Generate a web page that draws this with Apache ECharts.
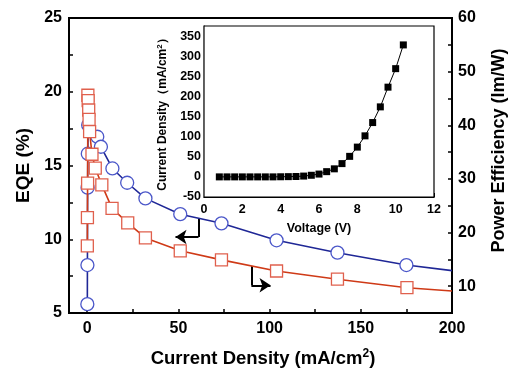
<!DOCTYPE html>
<html>
<head>
<meta charset="utf-8">
<script src="https://cdn.jsdelivr.net/npm/echarts@6/dist/echarts.min.js"></script>
<style>
html,body{margin:0;padding:0;background:#fff;}
#c{width:511px;height:371px;}
</style>
</head>
<body>
<div id="c"></div>
<script>
// ---- main chart data ----
const eqeCurrent = [0.05, 0.1, 0.2, 0.3, 0.5, 5.5, 7.5, 13.8, 21.9, 31.9, 51, 73.6, 103.8, 137.2, 175, 200];
const eqeValues  = [5.6, 8.25, 13.5, 15.8, 17.75, 16.95, 16.27, 14.8, 13.83, 12.77, 11.7, 11.08, 9.93, 9.09, 8.25, 7.87];
const peCurrent  = [0.05, 0.1, 0.2, 0.35, 0.5, 0.8, 1.0, 1.3, 2.6, 4.4, 8, 13.6, 22.2, 31.9, 51, 73.6, 103.8, 137.2, 175.3, 200];
const peValues   = [17.5, 22.8, 29.2, 45.6, 44.6, 42.85, 41.1, 38.8, 34.6, 32.0, 28.9, 24.5, 21.8, 19.0, 16.6, 14.9, 12.83, 11.3, 9.72, 9.1];
// last point of each series only continues the line to the frame edge
const lineOnlyLast = true;

// ---- inset data ----
const voltage = [0.8, 1.2, 1.6, 2.0, 2.4, 2.8, 3.2, 3.6, 4.0, 4.4, 4.8, 5.2, 5.6, 6.0, 6.4, 6.8, 7.2, 7.6, 8.0, 8.4, 8.8, 9.2, 9.6, 10.0, 10.4];
const currentDensity = [0, 0, 0, 0, 0, 0, 0, 0, 0.3, 0.6, 1, 2, 4, 7, 13, 20, 33, 51, 74, 102, 135, 174, 223, 269, 328];

// ---- tick labels ----
const xTicks = [0, 25, 50, 75, 100, 125, 150, 175, 200];
const xLabels = [0, 50, 100, 150, 200];
const eqeTicks = [5, 7.5, 10, 12.5, 15, 17.5, 20, 22.5, 25];
const eqeLabels = [5, 10, 15, 20, 25];
const peTicks = [10, 15, 20, 25, 30, 35, 40, 45, 50, 55, 60];
const peLabels = [10, 20, 30, 40, 50, 60];
const insetYTicks = [-50, -25, 0, 25, 50, 75, 100, 125, 150, 175, 200, 225, 250, 275, 300, 325, 350];
const insetYLabels = [-50, 0, 50, 100, 150, 200, 250, 300, 350];

// ---- annotation arrows (data coordinates) ----
const eqeArrow = { x: 61, yTop: 11.37, yBottom: 10.15, xEnd: 48.4 };
const peArrow = { x: 90, yTop: 13.77, yBottom: 10.17, xEnd: 100.5 };

function pts(xs, ys, last) {
  return xs.map((x, i) => {
    if (last && i === xs.length - 1) return { value: [x, ys[i]], symbol: 'none' };
    return [x, ys[i]];
  });
}

const FONT = 'Liberation Sans, Arial, sans-serif';
const chart = echarts.init(document.getElementById('c'), null, { renderer: 'canvas' });

const axisLineStyle = { color: '#000', width: 2 };
const option = {
  backgroundColor: '#fff',
  animation: false,
  textStyle: { fontFamily: FONT },
  grid: [
    { left: 69, right: 59, top: 18, bottom: 58, show: true, borderColor: '#000', borderWidth: 2,
      backgroundColor: 'transparent', outerBoundsMode: 'none', containLabel: false },
    { left: 204, top: 26, width: 230, height: 171, show: true, borderColor: '#000', borderWidth: 1.2,
      backgroundColor: '#fff', z: 5, outerBoundsMode: 'none', containLabel: false }
  ],
  xAxis: [
    {
      type: 'value', gridIndex: 0, min: -10, max: 200,
      name: 'Current Density (mA/cm{sup|2})', nameLocation: 'middle', nameGap: 35,
      nameTextStyle: { fontSize: 18.5, fontWeight: 'bold', color: '#000', fontFamily: FONT, padding: [0, 0, 0, 5],
        rich: { sup: { fontSize: 12, fontWeight: 'bold', color: '#000', fontFamily: FONT, padding: [0, 0, 10, 0] } } },
      axisLine: { onZero: false, lineStyle: axisLineStyle },
      axisTick: { inside: true, length: 4, lineStyle: { width: 1.5, color: '#000' }, customValues: xTicks },
      axisLabel: { customValues: xLabels, fontSize: 16, fontWeight: 'bold', color: '#000', fontFamily: FONT, margin: 8 },
      splitLine: { show: false }
    },
    {
      type: 'value', gridIndex: 1, min: 0, max: 12, interval: 2,
      name: 'Voltage (V)', nameLocation: 'middle', nameGap: 25,
      nameTextStyle: { fontSize: 12.5, fontWeight: 'bold', color: '#000', fontFamily: FONT },
      axisLine: { onZero: false, lineStyle: { color: '#000', width: 1.2 } },
      axisTick: { inside: true, length: 4, lineStyle: { color: '#000' } },
      minorTick: { show: true, splitNumber: 2, length: 2.5, lineStyle: { color: '#000' } },
      axisLabel: { fontSize: 12.5, fontWeight: 'bold', color: '#000', fontFamily: FONT, margin: 6 },
      splitLine: { show: false }
    }
  ],
  yAxis: [
    {
      type: 'value', gridIndex: 0, min: 5, max: 25,
      name: 'EQE (%)', nameLocation: 'middle', nameGap: 36, nameRotate: 90,
      nameTextStyle: { fontSize: 19, fontWeight: 'bold', color: '#000', fontFamily: FONT },
      axisLine: { onZero: false, lineStyle: axisLineStyle },
      axisTick: { inside: true, length: 4, lineStyle: { width: 1.5, color: '#000' }, customValues: eqeTicks },
      axisLabel: { customValues: eqeLabels, fontSize: 16, fontWeight: 'bold', color: '#000', fontFamily: FONT, margin: 7 },
      splitLine: { show: false }
    },
    {
      type: 'value', gridIndex: 0, min: 5, max: 60, position: 'right',
      name: 'Power Efficiency (lm/W)', nameLocation: 'middle', nameGap: 38, nameRotate: 90,
      nameTextStyle: { fontSize: 18, fontWeight: 'bold', color: '#000', fontFamily: FONT, padding: [0, 0, 0, 30] },
      axisLine: { onZero: false, lineStyle: axisLineStyle },
      axisTick: { inside: true, length: 4, lineStyle: { width: 1.5, color: '#000' }, customValues: peTicks },
      axisLabel: { customValues: peLabels, fontSize: 16, fontWeight: 'bold', color: '#000', fontFamily: FONT, margin: 6 },
      splitLine: { show: false }
    },
    {
      type: 'value', gridIndex: 1, min: -50, max: 375,
      name: 'Current Density（mA/cm{sup|2}）', nameLocation: 'middle', nameGap: 34, nameRotate: 90,
      nameTextStyle: { fontSize: 12, fontWeight: 'bold', color: '#000', fontFamily: FONT,
        rich: { sup: { fontSize: 8, fontWeight: 'bold', color: '#000', fontFamily: FONT, padding: [0, 0, 6, 0] } } },
      axisLine: { onZero: false, lineStyle: { color: '#000', width: 1.2 } },
      axisTick: { inside: true, length: 3, lineStyle: { color: '#000' }, customValues: insetYTicks },
      axisLabel: { customValues: insetYLabels, fontSize: 12.5, fontWeight: 'bold', color: '#000', fontFamily: FONT, margin: 3 },
      splitLine: { show: false }
    }
  ],
  series: [
    {
      type: 'line', name: 'EQE', xAxisIndex: 0, yAxisIndex: 0,
      data: pts(eqeCurrent, eqeValues, lineOnlyLast),
      symbol: 'circle', symbolSize: 13, clip: true,
      lineStyle: { color: '#1f2796', width: 1.6 },
      itemStyle: { color: '#fff', borderColor: '#4b57c9', borderWidth: 1.3 },
      z: 3
    },
    {
      type: 'line', name: 'PE', xAxisIndex: 0, yAxisIndex: 1,
      data: pts(peCurrent, peValues, lineOnlyLast),
      symbol: 'rect', symbolSize: 12, clip: true,
      lineStyle: { color: '#cf3a17', width: 1.6 },
      itemStyle: { color: '#fff', borderColor: '#e0604d', borderWidth: 1.3 },
      z: 4
    },
    {
      type: 'lines', coordinateSystem: 'cartesian2d', xAxisIndex: 0, yAxisIndex: 0,
      symbol: ['none', 'none'], lineStyle: { color: '#000', width: 2, opacity: 1 },
      data: [{ coords: [[eqeArrow.x, eqeArrow.yTop], [eqeArrow.x, eqeArrow.yBottom]] }], z: 2
    },
    {
      type: 'lines', coordinateSystem: 'cartesian2d', xAxisIndex: 0, yAxisIndex: 0,
      symbol: ['none', 'arrow'], symbolSize: [8, 11], lineStyle: { color: '#000', width: 2, opacity: 1 },
      data: [{ coords: [[eqeArrow.x, eqeArrow.yBottom], [eqeArrow.xEnd, eqeArrow.yBottom]] }], z: 2
    },
    {
      type: 'lines', coordinateSystem: 'cartesian2d', xAxisIndex: 0, yAxisIndex: 1,
      symbol: ['none', 'none'], lineStyle: { color: '#000', width: 2, opacity: 1 },
      data: [{ coords: [[peArrow.x, peArrow.yTop], [peArrow.x, peArrow.yBottom]] }], z: 2
    },
    {
      type: 'lines', coordinateSystem: 'cartesian2d', xAxisIndex: 0, yAxisIndex: 1,
      symbol: ['none', 'arrow'], symbolSize: [8, 11], lineStyle: { color: '#000', width: 2, opacity: 1 },
      data: [{ coords: [[peArrow.x, peArrow.yBottom], [peArrow.xEnd, peArrow.yBottom]] }], z: 2
    },
    {
      type: 'line', name: 'J-V', xAxisIndex: 1, yAxisIndex: 2,
      data: voltage.map((v, i) => [v, currentDensity[i]]),
      symbol: 'rect', symbolSize: 7,
      lineStyle: { color: '#000', width: 1 },
      itemStyle: { color: '#000' },
      z: 6
    }
  ]
};
chart.setOption(option);
</script>
</body>
</html>
